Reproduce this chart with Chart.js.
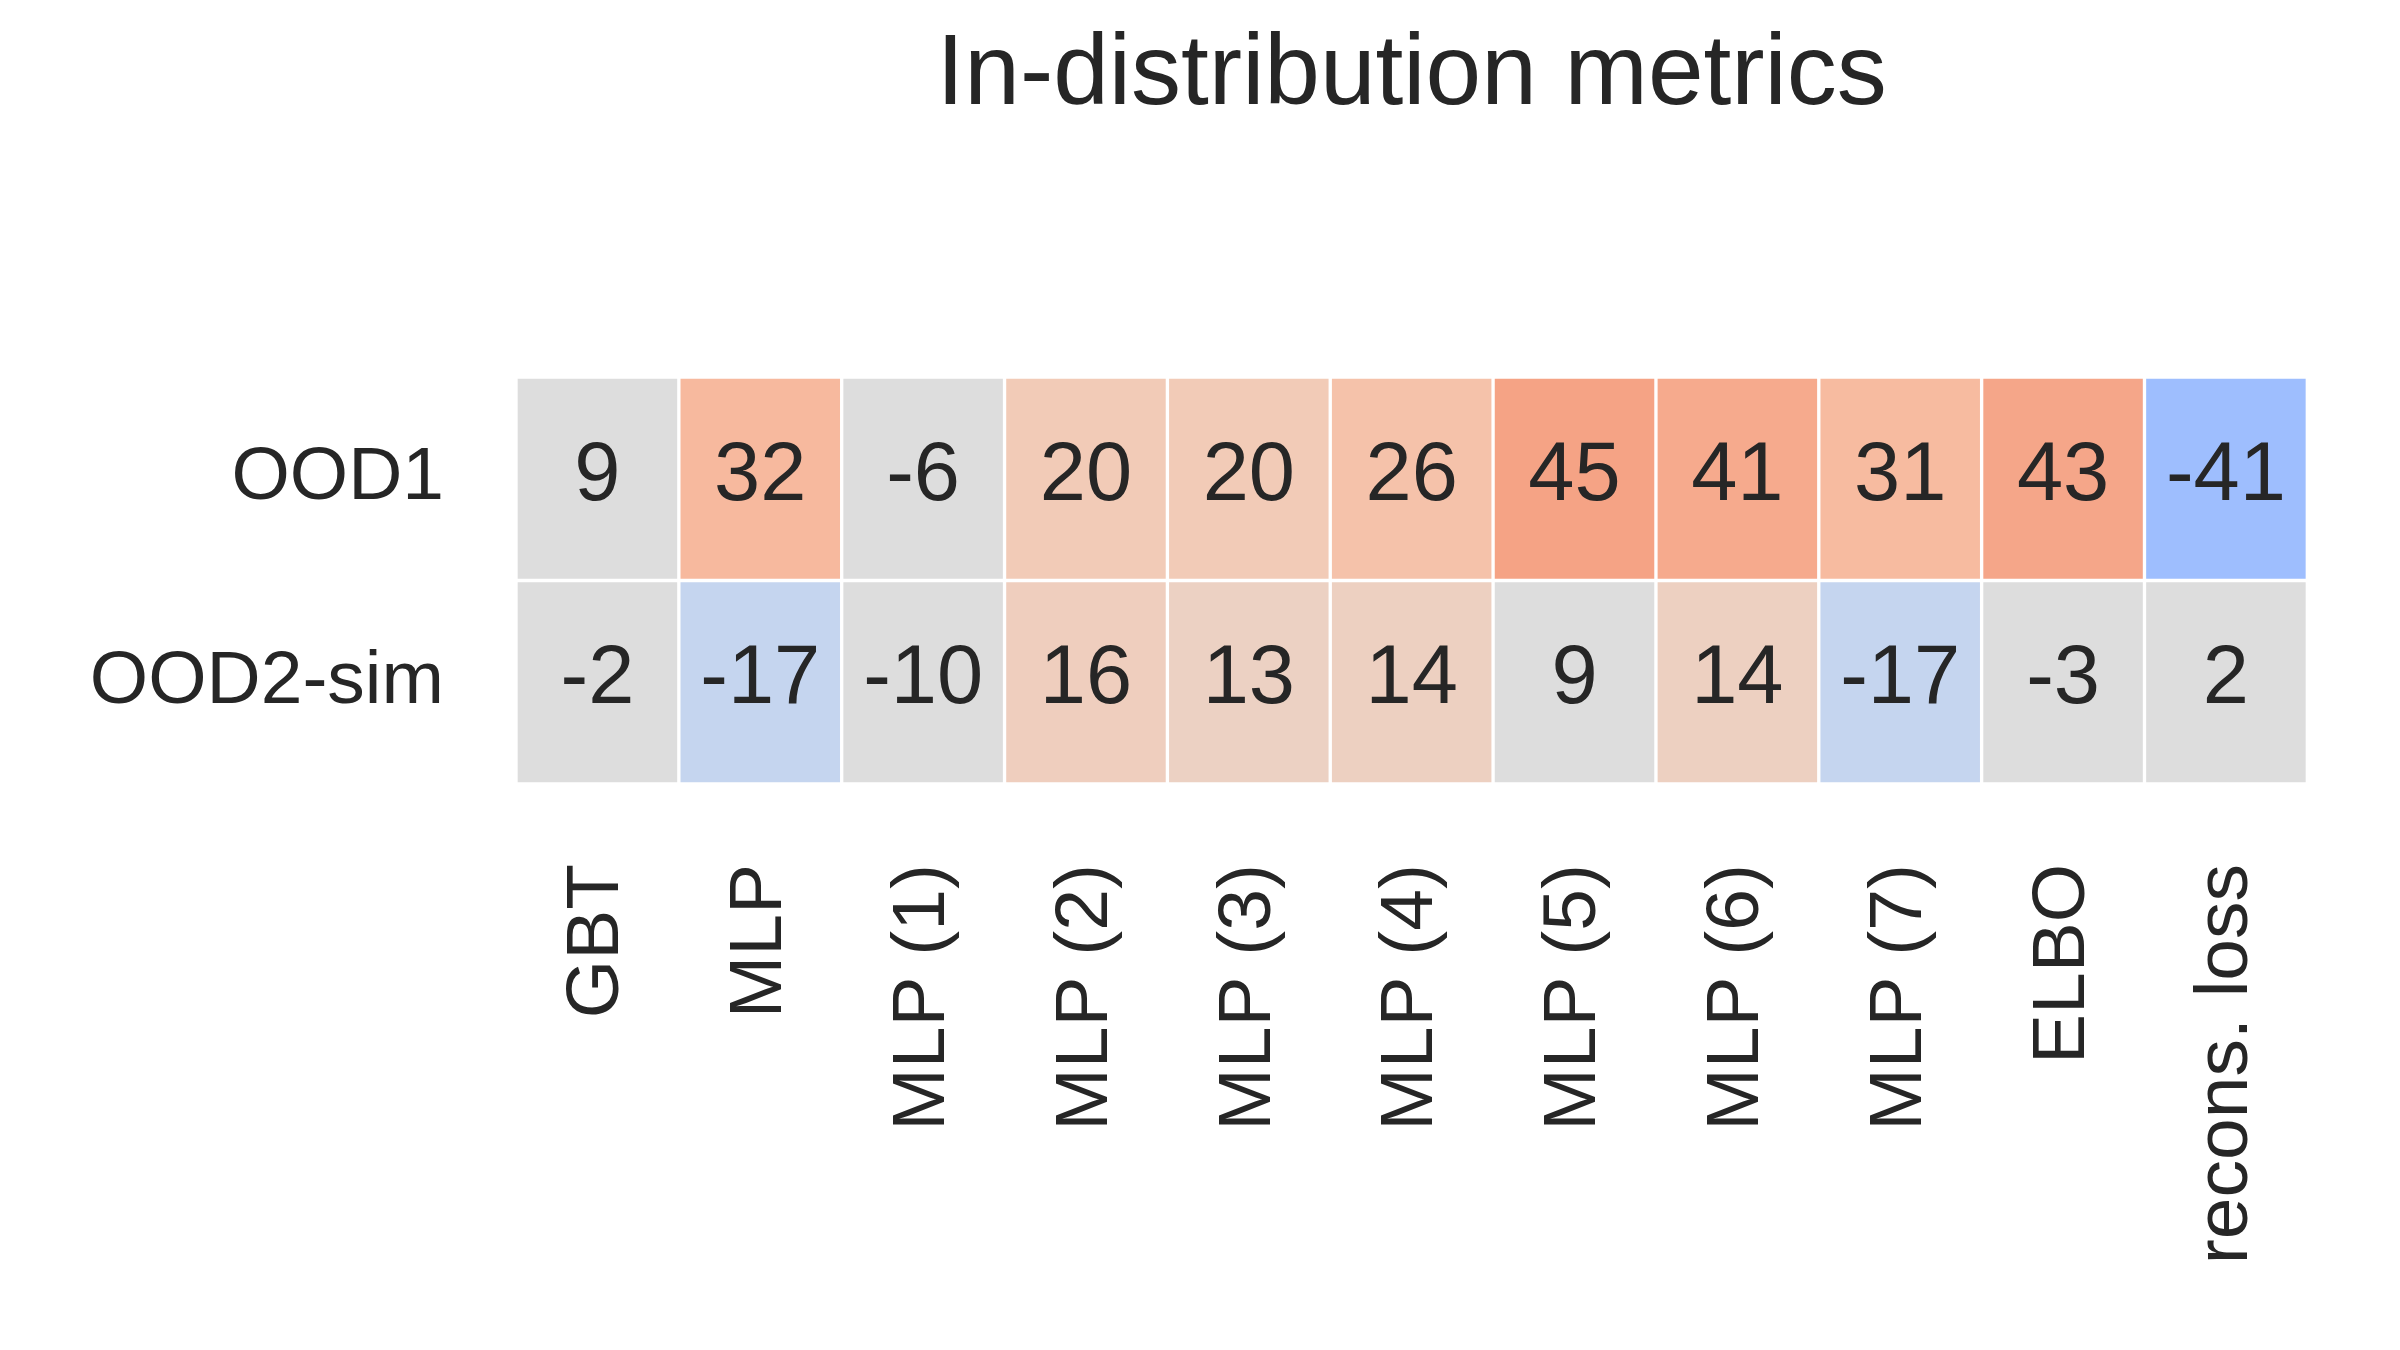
<!DOCTYPE html>
<html>
<head>
<meta charset="utf-8">
<script src="https://cdn.jsdelivr.net/npm/chart.js@4"></script>
<style>
  html, body { margin: 0; padding: 0; background: #ffffff; }
  #wrap { width: 2400px; height: 1350px; }
</style>
</head>
<body>
<div id="wrap"><canvas id="myChart"></canvas></div>
<script>
var methods = ['GBT', 'MLP', 'MLP (1)', 'MLP (2)', 'MLP (3)', 'MLP (4)', 'MLP (5)', 'MLP (6)', 'MLP (7)', 'ELBO', 'recons. loss'];
var rows = ['OOD1', 'OOD2-sim'];
var ood1 = [9, 32, -6, 20, 20, 26, 45, 41, 31, 43, -41];
var ood2sim = [-2, -17, -10, 16, 13, 14, 9, 14, -17, -3, 2];
var rowValues = [ood1, ood2sim];

var fontFamily = '"Liberation Sans", Arial, sans-serif';
var textColor = '#262626';

// colour stops (coolwarm-like), small values stay grey
var posStops = [[0, [221, 221, 221]], [14, [237, 208, 193]], [20, [242, 203, 183]], [26, [245, 194, 170]], [32, [247, 185, 158]], [45, [245, 163, 133]]];
var negStops = [[0, [221, 221, 221]], [17, [197, 213, 239]], [41, [158, 190, 254]]];

function cellColor(v) {
  if (Math.abs(v) < 12) return 'rgb(221,221,221)';
  var stops = v >= 0 ? posStops : negStops;
  var a = Math.abs(v);
  for (var i = 1; i < stops.length; i++) {
    if (a <= stops[i][0] || i === stops.length - 1) {
      var s0 = stops[i - 1], s1 = stops[i];
      var t = Math.min(1, (a - s0[0]) / (s1[0] - s0[0]));
      var c = s0[1].map(function(x, k) { return Math.round(x + (s1[1][k] - x) * t); });
      return 'rgb(' + c.join(',') + ')';
    }
  }
}

var datasets = rowValues.map(function(vals, r) {
  return {
    label: rows[r],
    data: vals.map(function() { return [r - 0.5, r + 0.5]; }),
    values: vals,
    backgroundColor: vals.map(cellColor),
    borderColor: '#ffffff',
    borderWidth: 2,
    borderSkipped: false,
    grouped: false,
    barPercentage: 1,
    categoryPercentage: 1
  };
});

// draws the numbers in the cells and the title centred over the grid
var cellText = {
  id: 'cellText',
  afterDatasetsDraw: function(chart) {
    var ctx = chart.ctx;
    ctx.save();
    ctx.fillStyle = textColor;
    ctx.font = '83px ' + fontFamily;
    ctx.textAlign = 'center';
    ctx.textBaseline = 'alphabetic';
    chart.data.datasets.forEach(function(ds, i) {
      chart.getDatasetMeta(i).data.forEach(function(el, j) {
        var cy = (el.y + el.base) / 2;
        ctx.fillText(String(ds.values[j]), el.x, cy + 21);
      });
    });
    var area = chart.chartArea;
    ctx.font = '100px ' + fontFamily;
    ctx.fillText('In-distribution metrics', (area.left + area.right) / 2, 104);
    ctx.restore();
  }
};

var ctx = document.getElementById('myChart').getContext('2d');
new Chart(ctx, {
  type: 'bar',
  data: {
    labels: methods,
    datasets: datasets
  },
  options: {
    responsive: true,
    maintainAspectRatio: false,
    animation: false,
    layout: {
      padding: { top: 377, right: 90, left: 0, bottom: 0 }
    },
    plugins: {
      legend: { display: false },
      tooltip: { enabled: false },
      title: { display: false }
    },
    scales: {
      x: {
        type: 'category',
        grid: { display: false, drawTicks: false },
        border: { display: false },
        ticks: {
          autoSkip: false,
          maxRotation: 90,
          minRotation: 90,
          padding: 80,
          color: textColor,
          font: { family: fontFamily, size: 75 }
        },
        afterFit: function(scale) { scale.height = 566; }
      },
      y: {
        type: 'linear',
        min: -0.5,
        max: 1.5,
        reverse: true,
        grid: { display: false, drawTicks: false },
        border: { display: false },
        afterBuildTicks: function(scale) {
          scale.ticks = rows.map(function(r, i) { return { value: i }; });
        },
        ticks: {
          padding: 72,
          color: textColor,
          font: { family: fontFamily, size: 75 },
          callback: function(value) { return rows[value]; }
        },
        afterFit: function(scale) { scale.width = 516; }
      }
    }
  },
  plugins: [cellText]
});
</script>
</body>
</html>
